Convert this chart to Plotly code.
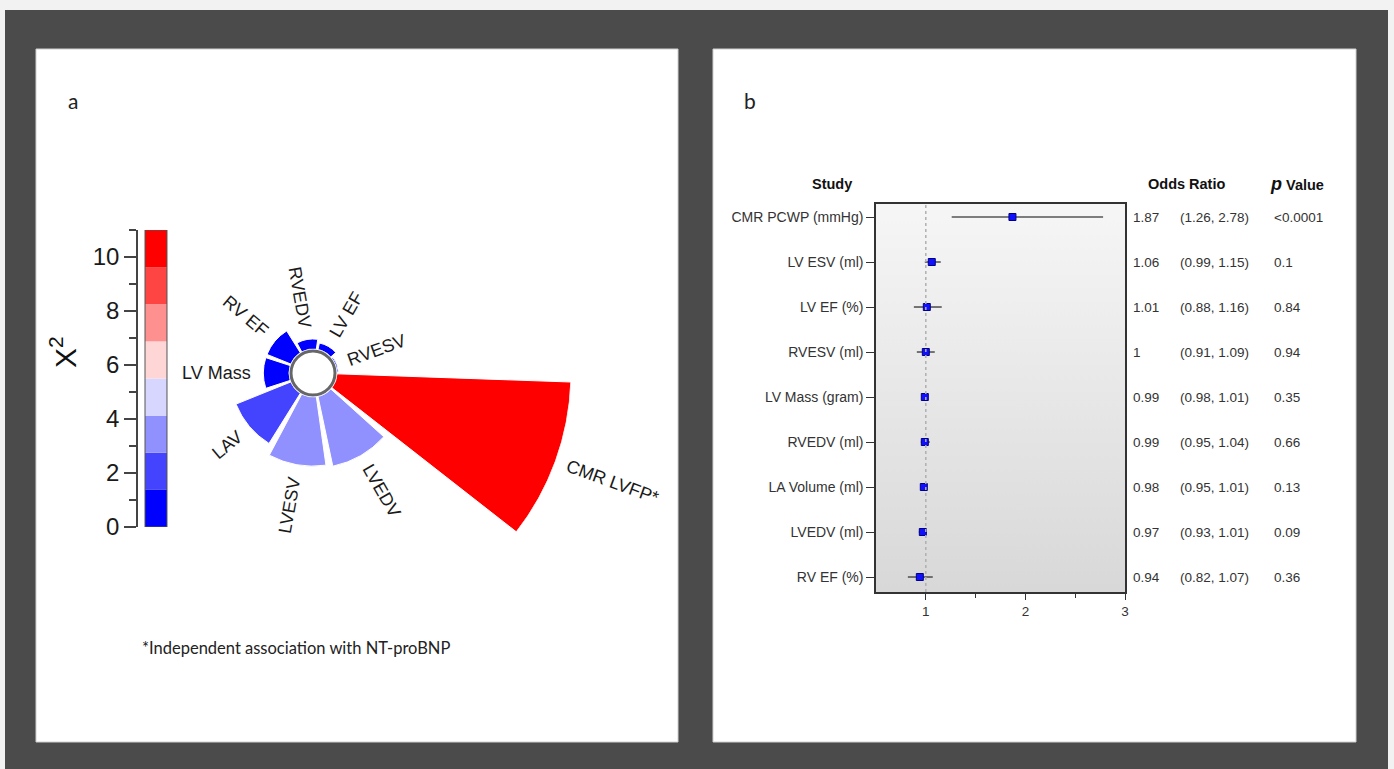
import math
import plotly.graph_objects as go

W, H = 1394, 769

# ---------------- data: panel a (polar chi-square chart) ----------------
radar_categories = ["CMR LVFP*", "LVEDV", "LVESV", "LAV", "LV Mass", "RV EF", "RVEDV", "LV EF", "RVESV"]
chi2_values = [10.5, 3.2, 3.1, 2.65, 1.15, 1.15, 0.45, 0.3, 0.06]
band_colors = ["#0000ff", "#4444ff", "#9090ff", "#d6d6ff", "#ffd6d6", "#ff9090", "#ff4444", "#ff0000"]
chi2_max = 11.0
colorbar_ticks = [0, 2, 4, 6, 8, 10]
colorbar_minor = [1, 3, 5, 7, 9, 11]

# ---------------- data: panel b (forest plot) ----------------
studies = ["CMR PCWP (mmHg)", "LV ESV (ml)", "LV EF (%)", "RVESV (ml)", "LV Mass (gram)",
           "RVEDV (ml)", "LA Volume (ml)", "LVEDV (ml)", "RV EF (%)"]
odds_ratio = [1.87, 1.06, 1.01, 1.00, 0.99, 0.99, 0.98, 0.97, 0.94]
ci_low = [1.26, 0.99, 0.88, 0.91, 0.98, 0.95, 0.95, 0.93, 0.82]
ci_high = [2.78, 1.15, 1.16, 1.09, 1.01, 1.04, 1.01, 1.01, 1.07]
or_labels = ["1.87", "1.06", "1.01", "1", "0.99", "0.99", "0.98", "0.97", "0.94"]
ci_labels = ["(1.26, 2.78)", "(0.99, 1.15)", "(0.88, 1.16)", "(0.91, 1.09)", "(0.98, 1.01)",
             "(0.95, 1.04)", "(0.95, 1.01)", "(0.93, 1.01)", "(0.82, 1.07)"]
p_labels = ["<0.0001", "0.1", "0.84", "0.94", "0.35", "0.66", "0.13", "0.09", "0.36"]
x_ticks = [1, 2, 3]
x_minor = [1.5, 2.5]

FONT = "Liberation Sans, Arial, sans-serif"


def px(x):
    return x / W


def py(y):
    return 1 - y / H


fig = go.Figure()

# ---------------- backgrounds ----------------
shapes = [
    dict(type="rect", xref="paper", yref="paper", x0=px(5), x1=px(1388), y0=0, y1=py(10),
         fillcolor="#4b4b4b", line=dict(width=0), layer="below"),
    dict(type="rect", xref="paper", yref="paper", x0=px(36), x1=px(678), y0=py(742), y1=py(49),
         fillcolor="white", line=dict(color="#d0d0d0", width=1), layer="below"),
    dict(type="rect", xref="paper", yref="paper", x0=px(713), x1=px(1356), y0=py(742), y1=py(49),
         fillcolor="white", line=dict(color="#d0d0d0", width=1), layer="below"),
]

# ---------------- panel a: polar bars ----------------
nb = len(band_colors)
cscale = []
for k, c in enumerate(band_colors):
    cscale.append([k / nb, c])
    cscale.append([(k + 1) / nb, c])

CX, CY, RAD = 313, 373, 258
HOLE_PX = 24
R_MAX = max(chi2_values)
ROT = -20

fig.add_trace(go.Barpolar(
    r=chi2_values, theta=radar_categories, subplot="polar",
    marker=dict(color=chi2_values, colorscale=cscale, cmin=0, cmax=chi2_max, showscale=False,
                line=dict(color="white", width=1)),
    showlegend=False, hoverinfo="skip"))

# radial labels
char_w = {"C": .722, "M": .833, "R": .722, " ": .278, "L": .556, "V": .667, "F": .611, "P": .667,
          "*": .389, "E": .667, "D": .722, "S": .667, "A": .667, "a": .556, "s": .5}
LABEL_SIZE = 18
annotations = []
n = len(radar_categories)
for i, (cat, v) in enumerate(zip(radar_categories, chi2_values)):
    theta = ROT - 360 / n * i
    rpx = HOLE_PX + v / R_MAX * (RAD - HOLE_PX)
    tw = sum(char_w.get(ch, .6) for ch in cat) * LABEL_SIZE
    rc = rpx + 12 + tw / 2
    t = math.radians(theta)
    x = CX + rc * math.cos(t)
    y = CY - rc * math.sin(t)
    if math.cos(t) >= -1e-9:
        ang = -theta
    else:
        ang = -theta + 180
    ang = (ang + 180) % 360 - 180
    annotations.append(dict(x=px(x), y=py(y), xref="paper", yref="paper", text=cat, showarrow=False,
                            textangle=ang, xanchor="center", yanchor="middle",
                            font=dict(family=FONT, size=LABEL_SIZE, color="#1a1a1a")))

# hole ring
shapes.append(dict(type="circle", xref="paper", yref="paper", xsizemode="pixel", ysizemode="pixel",
                   xanchor=px(CX), yanchor=py(CY), x0=-22, x1=22, y0=-22, y1=22,
                   line=dict(color="#666666", width=3), fillcolor="white"))

# colour bar (manual, ticks on the left)
band_h = chi2_max / nb
band_base = [k * band_h for k in range(nb)]
fig.add_trace(go.Bar(x=[0.6] * nb, y=[band_h] * nb, base=band_base, width=0.733,
                     marker=dict(color=band_colors, line=dict(width=0)),
                     xaxis="x3", yaxis="y3", showlegend=False, hoverinfo="skip"))
shapes.append(dict(type="rect", xref="x3", yref="y3", x0=0.6 - 0.3665, x1=0.6 + 0.3665, y0=0, y1=chi2_max,
                   line=dict(color="#555555", width=1)))

annotations.append(dict(x=px(63), y=py(352), xref="paper", yref="paper", text="X<sup>2</sup>",
                        showarrow=False, textangle=-90, xanchor="center", yanchor="middle",
                        font=dict(family=FONT, size=30, color="#111")))
annotations.append(dict(x=px(73), y=py(100), xref="paper", yref="paper", text="a", showarrow=False,
                        xanchor="center", yanchor="middle",
                        font=dict(family="Lato, sans-serif", size=21, color="#222")))
annotations.append(dict(x=px(750), y=py(100), xref="paper", yref="paper", text="b", showarrow=False,
                        xanchor="center", yanchor="middle",
                        font=dict(family="Lato, sans-serif", size=21, color="#222")))
annotations.append(dict(x=px(140), y=py(648), xref="paper", yref="paper",
                        text="*Independent association with NT-proBNP", showarrow=False,
                        xanchor="left", yanchor="middle",
                        font=dict(family="Lato, sans-serif", size=16.5, color="#222")))

# ---------------- panel b: forest plot ----------------
ypos = [len(studies) - 1 - i for i in range(len(studies))]
X_RANGE = [0.5, 3.0]
Y_RANGE = [-0.333, len(studies) - 1 + 0.289]

fig.add_trace(go.Scatter(
    x=[X_RANGE[0], X_RANGE[1], X_RANGE[1], X_RANGE[0], X_RANGE[0]],
    y=[Y_RANGE[0], Y_RANGE[0], Y_RANGE[1], Y_RANGE[1], Y_RANGE[0]],
    fill="toself", mode="lines", line=dict(width=0),
    fillgradient=dict(type="vertical", colorscale=[[0, "#d8d8d8"], [1, "#f6f6f6"]]),
    xaxis="x2", yaxis="y2", showlegend=False, hoverinfo="skip"))

shapes.append(dict(type="line", xref="x2", yref="y2 domain", x0=1, x1=1, y0=0, y1=1,
                   line=dict(color="#b0b0b0", width=1.5, dash="dot"), layer="above"))

fig.add_trace(go.Scatter(
    x=odds_ratio, y=ypos, mode="markers",
    marker=dict(symbol="square", size=7, color="#1010ff", line=dict(color="#000080", width=1)),
    error_x=dict(type="data", symmetric=False,
                 array=[h - o for h, o in zip(ci_high, odds_ratio)],
                 arrayminus=[o - l for o, l in zip(odds_ratio, ci_low)],
                 color="#555555", thickness=1.6, width=0),
    xaxis="x2", yaxis="y2", showlegend=False, hoverinfo="skip"))

for yv, a, b, c in zip(ypos, or_labels, ci_labels, p_labels):
    for xx, txt in ((1131, a), (1178, b), (1272, c)):
        annotations.append(dict(x=px(xx), y=yv, xref="paper", yref="y2", text=txt, showarrow=False,
                                xanchor="left", yanchor="middle",
                                font=dict(family=FONT, size=13.5, color="#333")))

hdr = dict(family=FONT, size=14.5, color="#111")
annotations.append(dict(x=px(832), y=py(184), xref="paper", yref="paper", text="<b>Study</b>",
                        showarrow=False, xanchor="center", yanchor="middle", font=hdr))
annotations.append(dict(x=px(1186), y=py(184), xref="paper", yref="paper", text="<b>Odds Ratio</b>",
                        showarrow=False, xanchor="center", yanchor="middle", font=hdr))
annotations.append(dict(x=px(1297), y=py(184), xref="paper", yref="paper",
                        text="<b><i><span style='font-size:18px'>p</span></i> Value</b>",
                        showarrow=False, xanchor="center", yanchor="middle", font=hdr))

fig.update_layout(
    width=W, height=H, margin=dict(l=0, r=0, t=0, b=0, pad=0, autoexpand=False),
    paper_bgcolor="#f2f2f2", plot_bgcolor="rgba(0,0,0,0)", showlegend=False,
    shapes=shapes, annotations=annotations, barmode="overlay",
    polar=dict(domain=dict(x=[px(CX - RAD), px(CX + RAD)], y=[py(CY + RAD), py(CY - RAD)]),
               hole=HOLE_PX / RAD, bgcolor="rgba(0,0,0,0)",
               radialaxis=dict(range=[0, R_MAX], visible=False, showgrid=False),
               angularaxis=dict(visible=False, showgrid=False, rotation=ROT, direction="clockwise")),
    xaxis2=dict(domain=[px(876), px(1125)], range=X_RANGE, anchor="y2", automargin=False,
                tickvals=x_ticks, ticks="outside", ticklen=6, tickcolor="#333", tickwidth=1.2,
                minor=dict(tickvals=x_minor, ticks="outside", ticklen=4, tickcolor="#333", tickwidth=1.2),
                showline=True, linecolor="#333", linewidth=1.5, mirror=True,
                showgrid=False, zeroline=False, tickfont=dict(family=FONT, size=13.5, color="#333")),
    yaxis2=dict(domain=[py(592), py(204)], range=Y_RANGE, anchor="x2", automargin=False,
                tickvals=ypos, ticktext=studies, ticks="outside", ticklen=8, tickcolor="#333",
                tickwidth=1.2, showline=True, linecolor="#333", linewidth=1.5, mirror=True,
                showgrid=False, zeroline=False, tickfont=dict(family=FONT, size=14, color="#333")),
    xaxis3=dict(domain=[px(138), px(168)], range=[0, 1], anchor="y3", visible=False, fixedrange=True,
                automargin=False),
    yaxis3=dict(domain=[py(527), py(230)], range=[0, chi2_max], anchor="x3", automargin=False,
                tickvals=colorbar_ticks, ticks="outside", ticklen=12, tickcolor="#444", tickwidth=1.5,
                minor=dict(tickvals=colorbar_minor, ticks="outside", ticklen=7, tickcolor="#444", tickwidth=1.5),
                showline=True, linecolor="#444", linewidth=1.5, showgrid=False, zeroline=False,
                tickfont=dict(family=FONT, size=24, color="#1a1a1a")),
)

page_js = (
    "document.body.style.margin='0';document.body.style.padding='0';"
    "document.documentElement.style.overflow='hidden';"
)

fig.write_html("out.html", config={"displayModeBar": False}, post_script=page_js)
